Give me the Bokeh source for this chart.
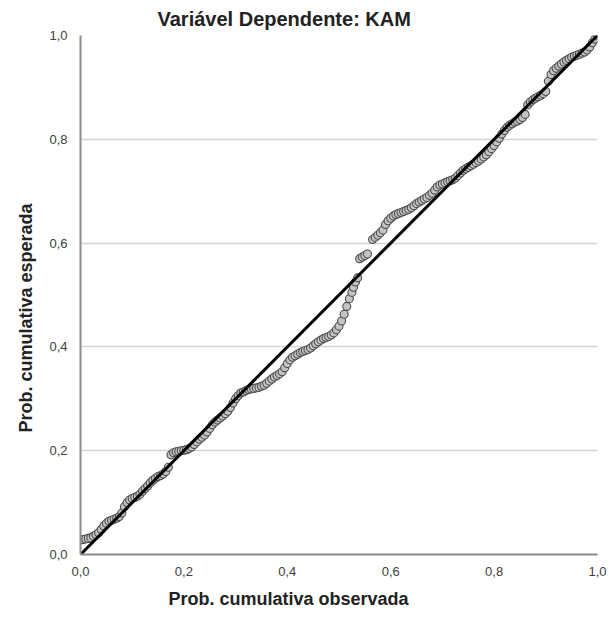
from bokeh.plotting import figure
from bokeh.models import Range1d, FixedTicker, Title, ColumnDataSource
from bokeh.embed import file_html
from bokeh.resources import INLINE

title_text = "Variável Dependente: KAM"
x_label = "Prob. cumulativa observada"
y_label = "Prob. cumulativa esperada"

tick_values = [0.0, 0.2, 0.4, 0.6, 0.8, 1.0]
tick_labels = ["0,0", "0,2", "0,4", "0,6", "0,8", "1,0"]

observed = [
    0.000, 0.005, 0.010, 0.015, 0.020, 0.025, 0.030, 0.035, 0.040,
    0.045, 0.050, 0.055, 0.060, 0.065, 0.070, 0.075, 0.080,
    0.085, 0.090, 0.095, 0.100, 0.105, 0.110,
    0.115, 0.120, 0.125, 0.130, 0.135, 0.140, 0.145, 0.150, 0.155, 0.160, 0.165, 0.170,
    0.175, 0.180, 0.185, 0.190, 0.195, 0.200, 0.205, 0.210,
    0.215, 0.220, 0.225, 0.230, 0.235, 0.240, 0.245, 0.250,
    0.255, 0.260, 0.265, 0.270, 0.275, 0.280, 0.285, 0.290,
    0.295, 0.300, 0.305, 0.310,
    0.315, 0.320, 0.325, 0.330, 0.335, 0.340, 0.345, 0.350, 0.355,
    0.360, 0.365, 0.370, 0.375, 0.380, 0.385, 0.390,
    0.395, 0.400, 0.405, 0.410, 0.415, 0.420, 0.425, 0.430, 0.435, 0.440, 0.445,
    0.450, 0.455, 0.460, 0.465, 0.470, 0.475, 0.480, 0.485, 0.490, 0.495,
    0.500, 0.505, 0.510, 0.515, 0.520, 0.525, 0.528, 0.532, 0.536,
    0.540, 0.545, 0.550, 0.555,
    0.565, 0.570, 0.575, 0.580, 0.585,
    0.590, 0.595, 0.600, 0.605, 0.610, 0.615, 0.620, 0.625, 0.630, 0.635, 0.640,
    0.645, 0.650, 0.655, 0.660, 0.665, 0.670, 0.675, 0.680, 0.685,
    0.690, 0.695, 0.700, 0.705, 0.710, 0.715, 0.720, 0.725,
    0.730, 0.735, 0.740, 0.745, 0.750, 0.755, 0.760, 0.765, 0.770, 0.775,
    0.780, 0.785, 0.790, 0.795, 0.800, 0.805, 0.810, 0.815, 0.820, 0.825,
    0.830, 0.835, 0.840, 0.845, 0.850, 0.855, 0.860,
    0.865, 0.870, 0.875, 0.880, 0.885, 0.890, 0.895, 0.900,
    0.905, 0.910, 0.915, 0.920, 0.925, 0.930, 0.935, 0.940, 0.945, 0.950,
    0.955, 0.960, 0.965, 0.970, 0.975, 0.980, 0.985, 0.990, 0.995, 1.000,
]
expected = [
    0.028, 0.029, 0.030, 0.031, 0.032, 0.035, 0.038, 0.042, 0.048,
    0.055, 0.060, 0.064, 0.066, 0.068, 0.070, 0.073, 0.080,
    0.092, 0.100, 0.105, 0.108, 0.110, 0.112,
    0.116, 0.122, 0.127, 0.132, 0.138, 0.143, 0.147, 0.150, 0.152, 0.155, 0.160, 0.168,
    0.192, 0.196, 0.198, 0.199, 0.200, 0.201, 0.202, 0.204,
    0.207, 0.212, 0.217, 0.222, 0.226, 0.230, 0.236, 0.243,
    0.250, 0.255, 0.259, 0.263, 0.267, 0.271, 0.276, 0.283,
    0.292, 0.300, 0.306, 0.311,
    0.313, 0.316, 0.318, 0.319, 0.320, 0.321, 0.322, 0.324, 0.326,
    0.330, 0.334, 0.338, 0.342, 0.345, 0.348, 0.352,
    0.360, 0.368, 0.375, 0.380, 0.383, 0.386, 0.389, 0.391, 0.393, 0.395, 0.398,
    0.402, 0.406, 0.410, 0.413, 0.416, 0.418, 0.420, 0.423, 0.427, 0.433,
    0.440, 0.450, 0.463, 0.478, 0.493, 0.505, 0.515, 0.525, 0.533,
    0.570, 0.573, 0.576, 0.579,
    0.607, 0.611, 0.615, 0.620, 0.625,
    0.636, 0.643, 0.648, 0.652, 0.655, 0.657, 0.659, 0.661, 0.663, 0.665, 0.668,
    0.672, 0.676, 0.679, 0.682, 0.685, 0.688, 0.692, 0.696, 0.702,
    0.708, 0.712, 0.714, 0.716, 0.718, 0.720, 0.722, 0.725,
    0.730, 0.735, 0.740, 0.743, 0.746, 0.749, 0.752, 0.755, 0.758, 0.762,
    0.766, 0.770, 0.776, 0.782, 0.788, 0.795, 0.802, 0.810, 0.817, 0.823,
    0.827, 0.830, 0.833, 0.835, 0.838, 0.842, 0.848,
    0.866, 0.872, 0.876, 0.879, 0.882, 0.885, 0.888, 0.892,
    0.912, 0.925, 0.932, 0.937, 0.941, 0.945, 0.949, 0.952, 0.955, 0.958,
    0.960, 0.962, 0.964, 0.966, 0.968, 0.972, 0.978, 0.986, 0.993, 0.999,
]
ref_line = [0.0, 1.0]

FONT = "Liberation Sans"

p = figure(width=609, height=623, output_backend="svg", toolbar_location=None,
           x_range=Range1d(0, 1), y_range=Range1d(0, 1),
           min_border_left=80, min_border_right=12, min_border_top=35, min_border_bottom=69)
p.outline_line_color = None
p.background_fill_color = "white"
p.border_fill_color = "white"

src = ColumnDataSource(dict(x=observed, y=expected))
p.scatter("x", "y", source=src, size=8, fill_color="#c4c4c4", line_color="#4a4a4a",
          line_width=1.1)
p.line(ref_line, ref_line, line_color="black", line_width=3)

for ax in (p.xaxis[0], p.yaxis[0]):
    ax.ticker = FixedTicker(ticks=tick_values)
    ax.major_label_overrides = {v: l for v, l in zip(tick_values, tick_labels)}
    ax.major_tick_line_color = None
    ax.minor_tick_line_color = None
    ax.axis_line_color = "#8c8c8c"
    ax.axis_line_width = 2
    ax.major_label_text_font = FONT
    ax.major_label_text_font_size = "13px"
    ax.major_label_text_color = "#404040"
p.xaxis[0].major_label_standoff = 6
p.yaxis[0].major_label_standoff = 7

p.xgrid.grid_line_color = None
p.ygrid.ticker = FixedTicker(ticks=tick_values)
p.ygrid.grid_line_color = "#d4d4d4"
p.ygrid.grid_line_width = 1.5

p.add_layout(Title(text=title_text, align="left", offset=77, text_font=FONT,
                   text_font_size="20px", text_font_style="bold", text_color="#222222",
                   standoff=8, vertical_align="top"), "above")
p.add_layout(Title(text=x_label, align="left", offset=88, text_font=FONT,
                   text_font_size="18px", text_font_style="bold", text_color="#222222",
                   standoff=20, vertical_align="top"), "below")
p.add_layout(Title(text=y_label, align="left", offset=122, text_font=FONT,
                   text_font_size="18px", text_font_style="bold", text_color="#222222",
                   standoff=22), "left")

open("out.html", "w").write(file_html(p, INLINE))
